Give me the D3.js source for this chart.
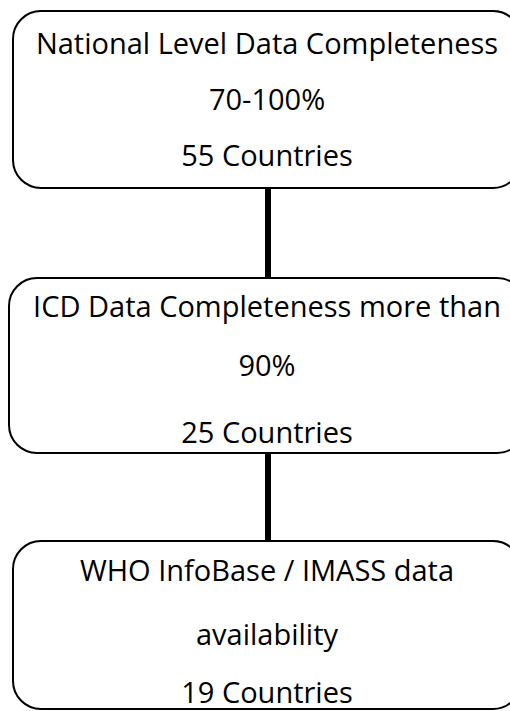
<!DOCTYPE html>
<html>
<head>
<meta charset="utf-8">
<script src="https://cdn.jsdelivr.net/npm/d3@7"></script>
<style>
  html, body { margin: 0; padding: 0; background: #fff; }
</style>
</head>
<body>
<div class="box"></div>
<script>
// DATA
const stageTitles = [
  ['National Level Data Completeness', '70-100%'],
  ['ICD Data Completeness more than', '90%'],
  ['WHO InfoBase / IMASS data', 'availability']
];
const countryCounts = [55, 25, 19];

// SETUP
const width = 510, height = 711;
const svg = d3.select('.box')
              .append('svg')
              .attr('width', width)
              .attr('height', height)
              .style('background', '#fff');

// box layout (left, top, bottom) and text baselines
const boxes = [
  {x: 13, y: 11,  b: 188, lines: [54, 110, 166]},
  {x: 9,  y: 278, b: 453, lines: [317, 376, 443]},
  {x: 13, y: 541, b: 709, lines: [581, 645, 703]}
];
const centerX = 267;   // text / connector centre
const radius = 28;

// connectors between the boxes
const links = d3.pairs(boxes);
svg.selectAll('line.link')
   .data(links)
   .enter()
   .append('line')
   .attr('class', 'link')
   .attr('x1', centerX + 1).attr('x2', centerX + 1)
   .attr('y1', d => d[0].b)
   .attr('y2', d => d[1].y)
   .attr('stroke', '#000')
   .attr('stroke-width', 6);

// boxes
const groups = svg.selectAll('g.stage')
                  .data(boxes.map((b, i) => ({...b, text: [...stageTitles[i], countryCounts[i] + ' Countries']})))
                  .enter()
                  .append('g')
                  .attr('class', 'stage');

groups.append('rect')
      .attr('x', d => d.x)
      .attr('y', d => d.y)
      .attr('width', d => 2 * (centerX - d.x))
      .attr('height', d => d.b - d.y)
      .attr('rx', radius)
      .attr('ry', radius)
      .attr('fill', '#fff')
      .attr('stroke', '#000')
      .attr('stroke-width', 2);

groups.selectAll('text')
      .data(d => d.text.map((t, i) => ({t, y: d.lines[i]})))
      .enter()
      .append('text')
      .attr('x', centerX)
      .attr('y', d => d.y)
      .attr('text-anchor', 'middle')
      .style('font-family', '"Open Sans", sans-serif')
      .style('font-size', '29px')
      .attr('fill', '#000')
      .text(d => d.t);
</script>
</body>
</html>
